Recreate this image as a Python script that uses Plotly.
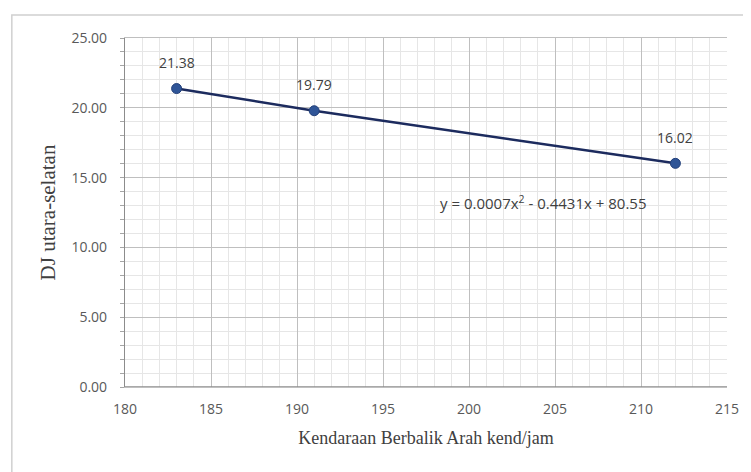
import plotly.graph_objects as go

x_vals = [183, 191, 212]
y_vals = [21.38, 19.79, 16.02]
point_labels = ["21.38", "19.79", "16.02"]
x_ticks = [180, 185, 190, 195, 200, 205, 210, 215]
y_ticks = [0, 5, 10, 15, 20, 25]
y_tick_labels = ["0.00", "5.00", "10.00", "15.00", "20.00", "25.00"]
equation = "y = 0.0007x<sup>2</sup> - 0.4431x + 80.55"

fig = go.Figure()
fig.add_trace(go.Scatter(
    x=x_vals, y=y_vals, mode="lines+markers",
    line=dict(color="#1c2b5e", width=2.5),
    marker=dict(color="#2f5597", size=10, line=dict(color="#23407a", width=1)),
    cliponaxis=False, showlegend=False,
))

for xv, yv, lab in zip(x_vals, y_vals, point_labels):
    fig.add_annotation(x=xv, y=yv, text=lab, showarrow=False, yshift=26,
                       font=dict(family="Open Sans", size=14, color="#404040"))

fig.add_annotation(x=204.36, y=13.25, text=equation, showarrow=False,
                   font=dict(family="Open Sans", size=15, color="#404040"))

fig.add_shape(type="rect", xref="paper", yref="paper",
              x0=-0.188, x1=1.15, y0=-0.6, y1=1.066,
              line=dict(color="#d0d0d0", width=1.5), fillcolor="rgba(0,0,0,0)", layer="below")

fig.update_layout(
    width=751, height=472,
    margin=dict(l=117, r=32, t=30, b=93),
    paper_bgcolor="white", plot_bgcolor="white",
    font=dict(family="Open Sans", size=12, color="#595959"),
)
fig.update_xaxes(
    range=[180, 215], tickvals=x_ticks, ticks="", showgrid=True, automargin=False,
    gridcolor="#bfbfbf", gridwidth=1,
    minor=dict(dtick=1, showgrid=True, gridcolor="#e6e6e6", gridwidth=1),
    showline=True, linecolor="#bfbfbf", mirror=True, zeroline=False,
    ticklabelstandoff=9,
    tickfont=dict(family="Open Sans", size=14, color="#595959"),
    title=dict(text="Kendaraan Berbalik Arah kend/jam",
               font=dict(family="Liberation Serif", size=18, color="#404040"), standoff=14),
)
fig.update_yaxes(
    range=[0, 25], tickvals=y_ticks, ticktext=y_tick_labels, ticks="outside",
    ticklen=0, showgrid=True, gridcolor="#bfbfbf", gridwidth=1, automargin=False,
    minor=dict(dtick=1, showgrid=True, gridcolor="#e6e6e6", gridwidth=1,
               ticks="outside", ticklen=4, tickcolor="#a6a6a6"),
    showline=True, linecolor="#8c8c8c", linewidth=1.2, mirror=False, zeroline=False,
    ticklabelstandoff=14,
    tickfont=dict(family="Open Sans", size=14, color="#595959"),
    title=dict(text="DJ utara-selatan",
               font=dict(family="Liberation Serif", size=21, color="#404040"), standoff=10),
)
fig.add_shape(type="line", xref="paper", yref="y", x0=0, x1=1, y0=0, y1=0,
              line=dict(color="#8c8c8c", width=1.5))

fig.write_html("out.html")
